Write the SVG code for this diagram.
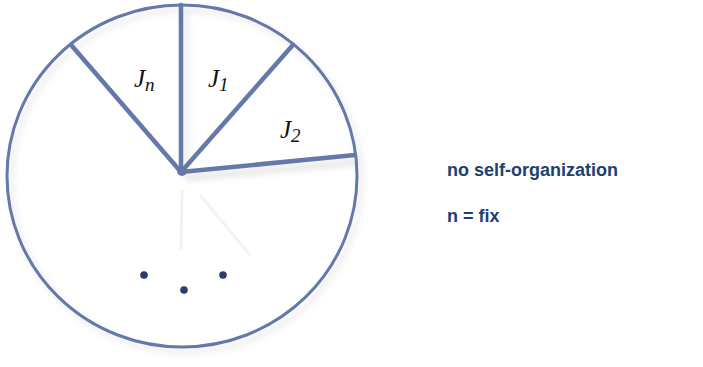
<svg xmlns="http://www.w3.org/2000/svg" width="703" height="367" viewBox="0 0 703 367">
<defs>
<filter id="blur" x="-20%" y="-20%" width="140%" height="140%"><feGaussianBlur stdDeviation="3"/></filter>
<style>
.spoke{stroke:#6479aa;stroke-width:4.5;stroke-linecap:round;fill:none}
.rim{stroke:#6479aa;stroke-width:3;fill:none}
.lbl{font-family:"Liberation Serif",serif;font-style:italic;font-size:25px;fill:#111}
.sub{font-size:19px}
.txt{font-family:"Liberation Sans",Arial,sans-serif;font-weight:bold;font-size:18px;fill:#1e3f70}
.dot{fill:#2c3b6b}
</style>
</defs>
<g id="shadow" filter="url(#blur)" opacity="0.3">
<ellipse cx="186" cy="181" rx="175" ry="171" fill="none" stroke="#b8b8b8" stroke-width="4"/>
<line x1="186" y1="178" x2="358" y2="162" stroke="#999" stroke-width="5"/>
<line x1="186" y1="178" x2="186" y2="10" stroke="#aaa" stroke-width="4"/>
</g>
<g id="ghost" stroke="#f3f3f3" stroke-width="3" fill="none">
<line x1="182" y1="190" x2="181" y2="250"/>
<line x1="200" y1="195" x2="250" y2="255"/>
</g>
<g id="wheel">
<ellipse class="rim" cx="182" cy="176" rx="175" ry="171"/>
</g>
<g id="connectors">
<line class="spoke" x1="181" y1="172" x2="181" y2="5"/>
<line class="spoke" x1="181" y1="172" x2="292" y2="46"/>
<line class="spoke" x1="181" y1="172" x2="355" y2="155"/>
<line class="spoke" x1="181" y1="172" x2="72" y2="46"/>
<circle cx="182" cy="171" r="5" fill="#6479aa"/>
</g>
<g id="label-Jn"><text class="lbl" x="134" y="87">J<tspan class="sub" dy="4">n</tspan></text></g>
<g id="label-J1"><text class="lbl" x="208" y="87">J<tspan class="sub" dy="4">1</tspan></text></g>
<g id="label-J2"><text class="lbl" x="280" y="138">J<tspan class="sub" dy="4">2</tspan></text></g>
<g id="dots">
<circle class="dot" cx="144" cy="275" r="3.8"/>
<circle class="dot" cx="184" cy="290" r="3.8"/>
<circle class="dot" cx="223" cy="275" r="3.8"/>
</g>
<g id="caption">
<text class="txt" x="447" y="176">no self-organization</text>
<text class="txt" x="447" y="222">n = fix</text>
</g>
</svg>
